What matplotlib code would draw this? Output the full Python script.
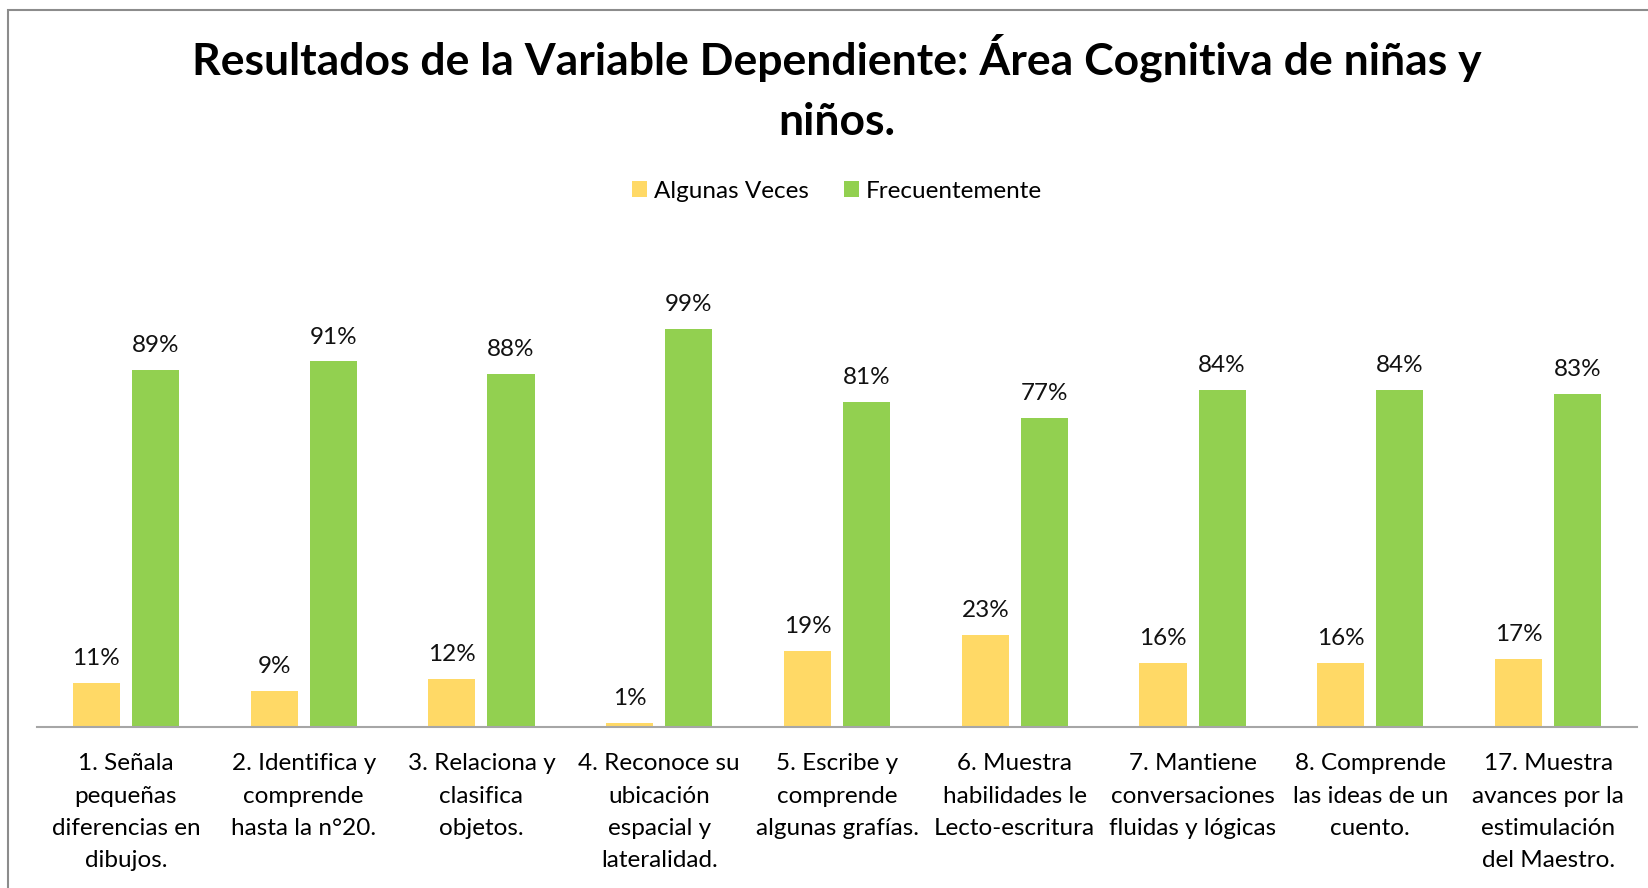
import numpy as np
import matplotlib.pyplot as plt
from matplotlib.patches import Rectangle

categories = [
    "1. Señala\npequeñas\ndiferencias en\ndibujos.",
    "2. Identifica y\ncomprende\nhasta la n°20.",
    "3. Relaciona y\nclasifica\nobjetos.",
    "4. Reconoce su\nubicación\nespacial y\nlateralidad.",
    "5. Escribe y\ncomprende\nalgunas grafías.",
    "6. Muestra\nhabilidades le\nLecto-escritura",
    "7. Mantiene\nconversaciones\nfluidas y lógicas",
    "8. Comprende\nlas ideas de un\ncuento.",
    "17. Muestra\navances por la\nestimulación\ndel Maestro.",
]
algunas_veces = [0.11, 0.09, 0.12, 0.01, 0.19, 0.23, 0.16, 0.16, 0.17]
frecuentemente = [0.89, 0.91, 0.88, 0.99, 0.81, 0.77, 0.84, 0.84, 0.83]

plt.rcParams['font.family'] = ['Lato', 'DejaVu Sans']

fig = plt.figure(figsize=(16.48, 8.88), dpi=100)
ax = fig.add_axes([37 / 1648, 1 - 727 / 888, 1600 / 1648, 482 / 888])

# outer chart border (only left/top visible in the reference)
fig.patches.append(Rectangle((8 / 1648, -0.1), 1.2, 1 - 10 / 888 + 0.1,
                             transform=fig.transFigure, fill=False,
                             edgecolor='#8c8c8c', linewidth=1.5))

x = np.arange(len(categories))
w = 0.265
off = 0.166
b1 = ax.bar(x - off, algunas_veces, w, color='#FFD966', label='Algunas Veces')
b2 = ax.bar(x + off, frecuentemente, w, color='#92D050', label='Frecuentemente')

for bars, vals in ((b1, algunas_veces), (b2, frecuentemente)):
    for bar, v in zip(bars, vals):
        ax.annotate(f"{round(v * 100)}%", (bar.get_x() + bar.get_width() / 2, v),
                    xytext=(0, 10), textcoords='offset points',
                    ha='center', va='bottom', fontsize=17.5, color='#111111')

ax.set_xlim(-0.5, len(categories) - 0.5)
ax.set_ylim(0, 1.2)
ax.set_yticks([])
ax.set_xticks(x)
ax.set_xticklabels(categories, fontsize=17.5, linespacing=1.66)
ax.tick_params(axis='x', length=0, pad=19)
for s in ('left', 'right', 'top'):
    ax.spines[s].set_visible(False)
ax.spines['bottom'].set_color('#a6a6a6')
ax.spines['bottom'].set_linewidth(1.5)

ax.legend(loc='center', bbox_to_anchor=(0.5, 1 + (245 - 191) / 482), ncol=2,
          frameon=False, fontsize=17.5, handlelength=0.6, handleheight=0.6,
          handletextpad=0.3, columnspacing=1.45)

fig.text(837 / 1648, 1 - 58 / 888,
         "Resultados de la Variable Dependiente: Área Cognitiva de niñas y",
         ha='center', va='center', fontsize=32, fontweight='bold')
fig.text(837 / 1648, 1 - 122 / 888, "niños.",
         ha='center', va='center', fontsize=32, fontweight='bold')

fig.savefig('out.png', dpi=100)
